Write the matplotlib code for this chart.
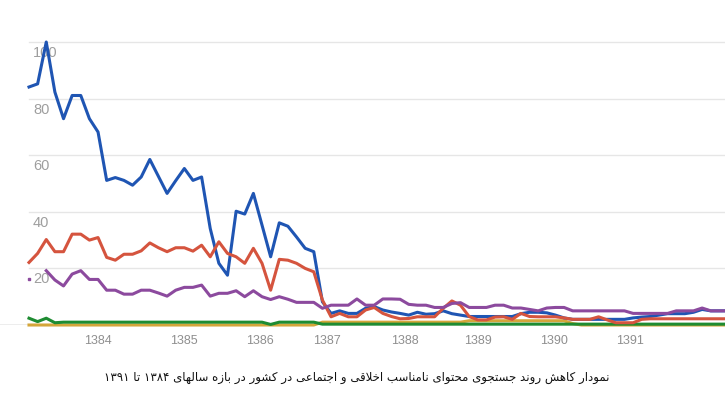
import numpy as np
import matplotlib
matplotlib.use("Agg")
import matplotlib.pyplot as plt

# ---------------- data ----------------
nan = float("nan")
blue = [84.1, 85.2, 100, 82.3, 72.9, 81.1, 81.1, 72.9, 68.2, 51.1,
        52.1, 51.1, 49.4, 52.3, 58.5, 52.5, 46.5, 51, 55.3, 51.1,
        52.3, 34.1, 21.8, 17.6, 40.2, 39.2, 46.5, 35.3, 24.1, 36.1,
        34.9, 31.1, 27.1, 25.9, 8.2, 4.1, 5.0, 4.1, 4.1, 5.9,
        6.5, 5.3, 4.6, 4.1, 3.5, 4.5, 3.8, 4, 5, 4,
        3.5, 3, 3, 3, 3, 3, 3, 4, 4.5, 4.5,
        4.3, 3.5, 2.5, 2, 2, 2, 2, 2, 2, 2,
        2.5, 2.8, 3, 3.5, 4, 4, 4, 4.5, 5.5, 5,
        5, 5]
red = [22.1, 25.3, 30.2, 25.9, 25.9, 32.1, 32.1, 30, 30.9, 23.9,
       22.9, 25, 25, 26.2, 29, 27.3, 25.9, 27.3, 27.3, 26.1,
       28.2, 24.1, 29.4, 25.3, 24.1, 21.8, 27.1, 21.8, 12.3, 23.2,
       22.9, 21.8, 20, 18.8, 8.8, 2.9, 4.1, 2.9, 2.9, 5.3,
       6.2, 4.1, 3, 2.2, 2.3, 2.9, 2.9, 2.9, 5.9, 8.5,
       7, 3, 1.8, 1.8, 2.8, 2.9, 2, 4.1, 3, 2.9,
       2.9, 2.9, 2.5, 2, 2, 2, 2.9, 1.8, 0.8, 0.8,
       0.8, 2, 2.2, 2.2, 2.2, 2.2, 2.2, 2.2, 2.2, 2.2,
       2.2, 2.2]
purple = [16.2, nan, 19.2, 15.9, 13.8, 18, 19.2, 16.1, 16.1, 12.3,
          12.3, 10.9, 10.9, 12.3, 12.3, 11.3, 10.2, 12.3, 13.3, 13.3,
          14.1, 10.2, 11.2, 11.2, 12.1, 10, 12.1, 10, 9, 10,
          9.1, 8, 8, 8, 5.9, 7, 7, 7, 9.2, 7,
          7, 9.2, 9.2, 9.1, 7.3, 7, 7, 6.2, 6.2, 7.6,
          7.9, 6.2, 6.2, 6.2, 7, 7, 6, 6, 5.5, 5,
          6, 6.2, 6.2, 5, 5, 5, 5, 5, 5, 5,
          4.1, 4.1, 4.1, 4.1, 4.1, 5, 5, 5, 6, 5,
          5, 5]
green = [2.4, 1.2, 2.4, 0.8, 1, 1, 1, 1, 1, 1,
         1, 1, 1, 1, 1, 1, 1, 1, 1, 1,
         1, 1, 1, 1, 1, 1, 1, 1, 0.2, 1,
         1, 1, 1, 1, 0.3, 0.3, 0.3, 0.3, 0.3, 0.3,
         0.3, 0.3, 0.3, 0.3, 0.3, 0.3, 0.3, 0.3, 0.3, 0.3,
         0.3, 0.3, 0.3, 0.3, 0.3, 0.3, 0.3, 0.3, 0.3, 0.3,
         0.3, 0.3, 0.3, 0.3, 0.3, 0.3, 0.3, 0.3, 0.3, 0.3,
         0.3, 0.3, 0.3, 0.3, 0.3, 0.3, 0.3, 0.3, 0.3, 0.3,
         0.3, 0.3]
orange = [0, 0, 0, 0, 0, 0, 0, 0, 0, 0,
          0, 0, 0, 0, 0, 0, 0, 0, 0, 0,
          0, 0, 0, 0, 0, 0, 0, 0, 0, 0,
          0, 0, 0, 0, 1, 1, 1, 1, 1, 1,
          1, 1, 1, 1, 1, 1, 1, 1, 1, 1,
          1, 1.5, 1.5, 1.5, 1.5, 1.5, 1.5, 1.5, 1.5, 1.5,
          1.5, 1.5, 1.5, 0.5, 0, 0, 0, 0, 0, 0,
          0, 0, 0, 0, 0, 0, 0, 0, 0, 0,
          0, 0]
year_ticks = [8.0, 17.9, 26.8, 34.5, 43.6, 52.0, 60.8, 69.6]
year_labels = ["1384", "1385", "1386", "1387", "1388", "1389", "1390", "1391"]
y_grid = [20, 40, 60, 80, 100]
caption = "نمودار کاهش روند جستجوی محتوای نامناسب اخلاقی و اجتماعی در کشور در بازه سالهای ۱۳۸۴ تا ۱۳۹۱"

# ---------------- simple Persian shaping ----------------
FORMS = {  # iso, fin, ini, med  (2-tuple = right-joining only)
    'ا': ('\uFE8D', '\uFE8E'), 'آ': ('\uFE81', '\uFE82'),
    'د': ('\uFEA9', '\uFEAA'), 'ذ': ('\uFEAB', '\uFEAC'),
    'ر': ('\uFEAD', '\uFEAE'), 'ز': ('\uFEAF', '\uFEB0'),
    'ژ': ('\uFB8A', '\uFB8B'), 'و': ('\uFEED', '\uFEEE'),
    'ب': ('\uFE8F', '\uFE90', '\uFE91', '\uFE92'),
    'ت': ('\uFE95', '\uFE96', '\uFE97', '\uFE98'),
    'ث': ('\uFE99', '\uFE9A', '\uFE9B', '\uFE9C'),
    'ج': ('\uFE9D', '\uFE9E', '\uFE9F', '\uFEA0'),
    'ح': ('\uFEA1', '\uFEA2', '\uFEA3', '\uFEA4'),
    'خ': ('\uFEA5', '\uFEA6', '\uFEA7', '\uFEA8'),
    'س': ('\uFEB1', '\uFEB2', '\uFEB3', '\uFEB4'),
    'ش': ('\uFEB5', '\uFEB6', '\uFEB7', '\uFEB8'),
    'ص': ('\uFEB9', '\uFEBA', '\uFEBB', '\uFEBC'),
    'ع': ('\uFEC9', '\uFECA', '\uFECB', '\uFECC'),
    'ف': ('\uFED1', '\uFED2', '\uFED3', '\uFED4'),
    'ق': ('\uFED5', '\uFED6', '\uFED7', '\uFED8'),
    'ل': ('\uFEDD', '\uFEDE', '\uFEDF', '\uFEE0'),
    'م': ('\uFEE1', '\uFEE2', '\uFEE3', '\uFEE4'),
    'ن': ('\uFEE5', '\uFEE6', '\uFEE7', '\uFEE8'),
    'ه': ('\uFEE9', '\uFEEA', '\uFEEB', '\uFEEC'),
    'پ': ('\uFB56', '\uFB57', '\uFB58', '\uFB59'),
    'چ': ('\uFB7A', '\uFB7B', '\uFB7C', '\uFB7D'),
    'ک': ('\uFB8E', '\uFB8F', '\uFB90', '\uFB91'),
    'گ': ('\uFB92', '\uFB93', '\uFB94', '\uFB95'),
    'ی': ('\uFBFC', '\uFBFD', '\uFBFE', '\uFBFF'),
}


def shape_word(w):
    chars = []
    i = 0
    while i < len(w):
        if w[i] == 'ل' and i + 1 < len(w) and w[i + 1] == 'ا':
            chars.append('LA')
            i += 2
        else:
            chars.append(w[i])
            i += 1

    def dual(c):
        return c in FORMS and len(FORMS[c]) == 4

    def joins(c):
        return c in FORMS or c == 'LA'

    out = []
    for k, c in enumerate(chars):
        prev_c = chars[k - 1] if k > 0 else None
        next_c = chars[k + 1] if k + 1 < len(chars) else None
        cp = prev_c is not None and dual(prev_c)
        if c == 'LA':
            out.append('\uFEFC' if cp else '\uFEFB')
            continue
        if c not in FORMS:
            out.append(c)
            continue
        f = FORMS[c]
        cn = len(f) == 4 and next_c is not None and joins(next_c)
        if cp and cn:
            out.append(f[3])
        elif cp:
            out.append(f[1])
        elif cn:
            out.append(f[2])
        else:
            out.append(f[0])
    return out


def visual(text):
    words = text.split(' ')
    vis = []
    for w in reversed(words):
        if any(ch in FORMS for ch in w):
            vis.append(''.join(reversed(shape_word(w))))
        else:
            vis.append(w)
    return ' '.join(vis)


# ---------------- figure ----------------
W, H = 725, 398
fig = plt.figure(figsize=(W / 100, H / 100), dpi=100)
x0_px, step_px = 29.0, 8.63
y0_px, y100_px = 325.0, 42.0
ax = fig.add_axes([0, (H - y0_px) / H, 1, (y0_px - y100_px) / H])
ax.set_xlim(-x0_px / step_px, (W - x0_px) / step_px)
ax.set_ylim(0, 100)
for s in ax.spines.values():
    s.set_visible(False)

x = np.arange(len(blue))
for g in y_grid:
    ax.plot([0, x[-1] + 2], [g, g], color="#e6e6e6", lw=1.0, zorder=1, clip_on=False)
ax.axhline(0, color="#a8a8a8", lw=1.0, zorder=1)

lw = 2.2
ax.plot(x, orange, color="#d4a63a", lw=lw, zorder=3, clip_on=False)
ax.plot(x, green, color="#1e8c32", lw=lw, zorder=3, clip_on=False)
ax.plot(x, blue, color="#1f55b3", lw=lw, zorder=4, clip_on=False)
ax.plot(x, red, color="#d5543e", lw=lw, zorder=5, clip_on=False)
ax.plot(x, purple, color="#8c4a9e", lw=lw, zorder=6, clip_on=False)
ax.plot(x[:1], purple[:1], marker="s", ms=2.0, color="#8c4a9e", lw=0, zorder=6, clip_on=False)

ytr = ax.get_yaxis_transform()
for g in y_grid:
    ax.text(33 / W, g - 3.9, str(g), transform=ytr, ha="left", va="center",
            fontsize=10.5, color="#9e9e9e", family="Liberation Sans", zorder=2)

ax.set_xticks(year_ticks)
ax.set_xticklabels(year_labels, fontsize=9, color="#8f8f8f", family="Liberation Sans")
ax.tick_params(axis="x", length=0, pad=7)
ax.set_yticks([])

fig.text(357 / W, 1 - 377 / H, visual(caption), ha="center", va="center",
         fontsize=8.5, color="#111111", family="DejaVu Sans")

fig.savefig("out.png", dpi=100)
